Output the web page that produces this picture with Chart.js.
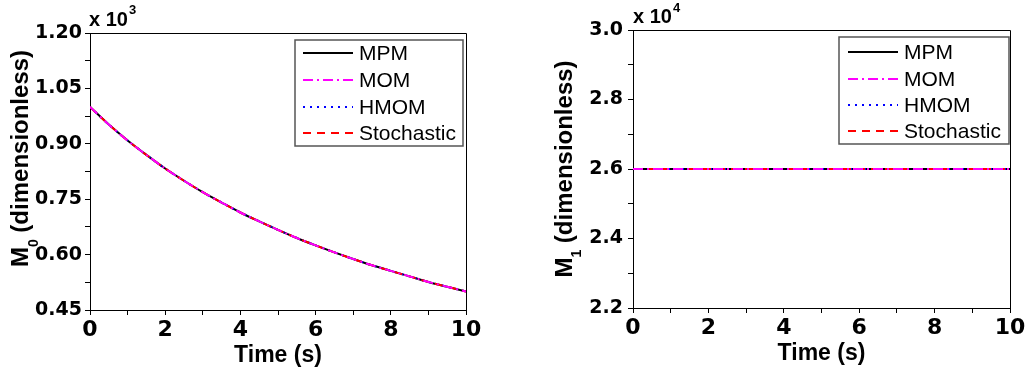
<!DOCTYPE html>
<html><head><meta charset="utf-8">
<script src="https://cdn.jsdelivr.net/npm/chart.js@4/dist/chart.umd.min.js"></script>
<style>
html,body{margin:0;padding:0;background:#fff}
body{width:1029px;height:373px;overflow:hidden;position:relative}
canvas{position:absolute;top:0}
</style></head><body>
<canvas id="c0" width="515" height="373" style="left:0"></canvas>
<canvas id="c1" width="514" height="373" style="left:515px"></canvas>
<script>
// ---- data ----
const seriesNames = ['MPM', 'MOM', 'HMOM', 'Stochastic'];
const time0 = [0,0.5,1,1.5,2,2.5,3,3.5,4,4.5,5,5.5,6,6.5,7,7.5,8,8.5,9,9.5,10];
// M0 in units of 10^3
const m0_MPM        = [1.000,0.952,0.909,0.870,0.833,0.800,0.769,0.741,0.714,0.690,0.667,0.645,0.625,0.606,0.588,0.571,0.556,0.541,0.526,0.513,0.500];
const m0_MOM        = [1.000,0.952,0.909,0.870,0.833,0.800,0.769,0.741,0.714,0.690,0.667,0.645,0.625,0.606,0.588,0.571,0.556,0.541,0.526,0.513,0.500];
const m0_HMOM       = [1.000,0.952,0.909,0.870,0.833,0.800,0.769,0.741,0.714,0.690,0.667,0.645,0.625,0.606,0.588,0.571,0.556,0.541,0.526,0.513,0.500];
const m0_Stochastic = [1.000,0.952,0.909,0.870,0.833,0.800,0.769,0.741,0.714,0.690,0.667,0.645,0.625,0.606,0.588,0.571,0.556,0.541,0.526,0.513,0.500];
const time1 = [0,1,2,3,4,5,6,7,8,9,10];
// M1 in units of 10^4
const m1_MPM        = [2.6,2.6,2.6,2.6,2.6,2.6,2.6,2.6,2.6,2.6,2.6];
const m1_MOM        = [2.6,2.6,2.6,2.6,2.6,2.6,2.6,2.6,2.6,2.6,2.6];
const m1_HMOM       = [2.6,2.6,2.6,2.6,2.6,2.6,2.6,2.6,2.6,2.6,2.6];
const m1_Stochastic = [2.6,2.6,2.6,2.6,2.6,2.6,2.6,2.6,2.6,2.6,2.6];
const xTicks = [0, 2, 4, 6, 8, 10];
const y0Ticks = ['0.45','0.60','0.75','0.90','1.05','1.20'];
const y1Ticks = ['2.2','2.4','2.6','2.8','3.0'];

// ---- styles ----
const styles = [
  {color:'#000000', dash:[], order:3},
  {color:'#ff00ff', dash:[10,4,2,4], order:0},
  {color:'#0000ff', dash:[2,5], order:2},
  {color:'#ff0000', dash:[8,6], order:1}
];

function toPts(xs, ys){ return xs.map((x,i)=>({x:x, y:ys[i]})); }
function makeDatasets(xs, arrs){
  return arrs.map((ys,i)=>({
    label: seriesNames[i], data: toPts(xs, ys),
    borderColor: styles[i].color, backgroundColor: styles[i].color,
    borderDash: styles[i].dash, borderWidth: 2, pointRadius: 0,
    cubicInterpolationMode: 'monotone', fill: false, order: styles[i].order
  }));
}

const decor = {
  id: 'decor',
  afterDraw(chart, args, o){
    const ctx = chart.ctx, a = chart.chartArea;
    ctx.save();
    // frame top & right
    ctx.strokeStyle = '#000'; ctx.lineWidth = 1;
    ctx.beginPath();
    ctx.moveTo(Math.round(a.left), Math.round(a.top)+0.5);
    ctx.lineTo(Math.round(a.right)+0.5, Math.round(a.top)+0.5);
    ctx.lineTo(Math.round(a.right)+0.5, Math.round(a.bottom));
    ctx.stroke();
    // legend
    const L = o.legend;
    ctx.fillStyle = '#fff';
    ctx.fillRect(L.x, L.y, L.w, L.h);
    ctx.strokeStyle = '#555'; ctx.lineWidth = 1.5;
    ctx.strokeRect(L.x, L.y, L.w, L.h);
    chart.data.datasets.forEach((ds, i) => {
      const y = L.rows[i];
      ctx.strokeStyle = ds.borderColor; ctx.lineWidth = 2;
      ctx.setLineDash(ds.borderDash);
      ctx.beginPath(); ctx.moveTo(L.x0, y); ctx.lineTo(L.x1, y); ctx.stroke();
      ctx.setLineDash([]);
      ctx.fillStyle = '#000';
      ctx.font = '21px "Liberation Sans", Arial, sans-serif';
      ctx.textBaseline = 'middle'; ctx.textAlign = 'left';
      ctx.fillText(ds.label, L.tx, y + 1);
    });
    // y title with subscript
    const T = o.yTitle;
    ctx.save();
    ctx.translate(T.bx, T.cy); ctx.rotate(-Math.PI/2);
    ctx.fillStyle = '#000'; ctx.textBaseline = 'alphabetic'; ctx.textAlign = 'left';
    const fMain = 'bold 24px "Liberation Sans", Arial, sans-serif';
    const fSub = 'bold 14px "Liberation Sans", Arial, sans-serif';
    ctx.font = fMain; const wM = ctx.measureText(T.main).width; const wR = ctx.measureText(T.rest).width;
    ctx.font = fSub; const wS = ctx.measureText(T.sub).width;
    let sx = -(wM + wS + wR)/2;
    ctx.font = fMain; ctx.fillText(T.main, sx, 0);
    ctx.font = fSub; ctx.fillText(T.sub, sx + wM, T.subDy);
    ctx.font = fMain; ctx.fillText(T.rest, sx + wM + wS, 0);
    ctx.restore();
    // x title
    ctx.fillStyle = '#000';
    ctx.font = 'bold 23px "Liberation Sans", Arial, sans-serif';
    ctx.textAlign = 'center'; ctx.textBaseline = 'alphabetic';
    ctx.fillText(o.xTitle.text, (a.left + a.right)/2, o.xTitle.y);
    // exponent
    const E = o.exp;
    ctx.textAlign = 'left';
    ctx.font = 'bold 20px "Liberation Sans", Arial, sans-serif';
    ctx.fillText(E.base, E.x, E.y);
    const wb = ctx.measureText(E.base).width;
    ctx.font = 'bold 13px "Liberation Sans", Arial, sans-serif';
    ctx.fillText(E.sup, E.x + wb + 1, E.y + E.supDy);
    ctx.restore();
  }
};

function makeChart(id, xs, arrs, cfg){
  return new Chart(document.getElementById(id), {
    type: 'line',
    data: { datasets: makeDatasets(xs, arrs) },
    plugins: [decor],
    options: {
      responsive: false, animation: false, devicePixelRatio: 1,
      layout: { padding: { top: cfg.padTop, right: cfg.padRight, left: 0, bottom: 0 } },
      plugins: { legend: {display:false}, tooltip: {enabled:false}, decor: cfg.decor },
      scales: {
        x: {
          type: 'linear', min: 0, max: 10,
          afterFit: s => { s.height = cfg.xHeight; },
          grid: { drawOnChartArea: false, tickLength: 5, tickColor: '#000', tickWidth: 1 },
          border: { display: true, color: '#000', width: 1 },
          ticks: {
            stepSize: 1, padding: 2, color: '#000', maxRotation: 0, autoSkip: false,
            font: { family: 'DejaVu Sans', weight: 'bold', size: 22 },
            callback: v => xTicks.includes(v) ? String(v) : ''
          }
        },
        y: {
          type: 'linear', min: cfg.yMin, max: cfg.yMax,
          afterFit: s => { s.width = cfg.yWidth; },
          grid: { drawOnChartArea: false, tickLength: 5, tickColor: '#000', tickWidth: 1 },
          border: { display: true, color: '#000', width: 1 },
          ticks: {
            stepSize: cfg.yStep, padding: cfg.yPad, color: '#000', autoSkip: false,
            font: { family: 'DejaVu Sans', weight: 'bold', size: 19 },
            callback: (v, i) => (i % 2 === 0) ? cfg.yLabels[i/2] : ''
          }
        }
      }
    }
  });
}

makeChart('c0', time0, [m0_MPM, m0_MOM, m0_HMOM, m0_Stochastic], {
  padTop: 33, padRight: 49, xHeight: 63, yWidth: 90, yMin: 0.45, yMax: 1.2, yStep: 0.075, yPad: 3,
  yLabels: y0Ticks,
  decor: {
    legend: {x: 295, y: 40, w: 168, h: 106, rows: [53, 80, 107, 133], x0: 303, x1: 353, tx: 359},
    yTitle: {bx: 28, cy: 158.5, main: 'M', sub: '0', rest: ' (dimensionless)', subDy: 10},
    xTitle: {text: 'Time (s)', y: 362},
    exp: {x: 89, y: 26, base: 'x 10', sup: '3', supDy: -12}
  }
});
makeChart('c1', time1, [m1_MPM, m1_MOM, m1_HMOM, m1_Stochastic], {
  padTop: 30, padRight: 19, xHeight: 65, yWidth: 118, yMin: 2.2, yMax: 3.0, yStep: 0.1, yPad: 5,
  yLabels: y1Ticks,
  decor: {
    legend: {x: 324, y: 37, w: 170, h: 107, rows: [52, 79, 105, 131], x0: 333, x1: 383, tx: 389},
    yTitle: {bx: 57, cy: 169, main: 'M', sub: '1', rest: ' (dimensionless)', subDy: 9},
    xTitle: {text: 'Time (s)', y: 360},
    exp: {x: 118, y: 23, base: 'x 10', sup: '4', supDy: -11}
  }
});
</script>
</body></html>
